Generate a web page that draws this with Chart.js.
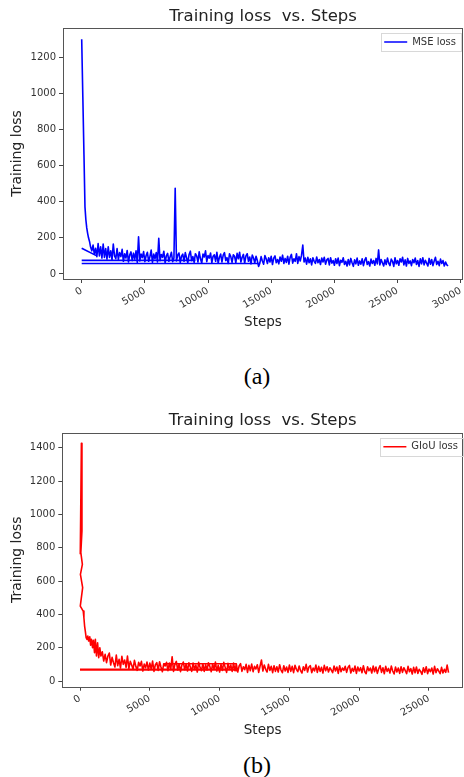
<!DOCTYPE html>
<html>
<head>
<meta charset="utf-8">
<script src="https://cdn.jsdelivr.net/npm/chart.js@4.4.3/dist/chart.umd.min.js"></script>
<style>
  html, body { margin: 0; padding: 0; background: #fff; }
  body { width: 464px; height: 777px; position: relative; overflow: hidden; }
  canvas { position: absolute; left: 0; }
  #chartA { top: 0; }
  #chartB { top: 390px; }
  .caption {
    position: absolute; left: 207px; width: 100px; text-align: center;
    font-family: 'Liberation Serif', 'Times New Roman', serif; font-size: 24px; line-height: 24px; color: #000;
  }
</style>
</head>
<body>
<canvas id="chartA" width="464" height="340"></canvas>
<div class="caption" style="top: 364px;">(a)</div>
<canvas id="chartB" width="464" height="355"></canvas>
<div class="caption" style="top: 753px;">(b)</div>
<script>
// ---- (a) MSE loss ----
const stepsA = [
    0, 90, 180, 260, 330, 400, 470, 540, 620, 700, 800, 900, 1000, 1100, 1200, 1300, 1400, 1500,
    1600, 1700, 1800, 1900, 2000,
    2100, 2200, 2300, 2400, 2500, 2600, 2700, 2800, 2900, 3000,
    3100, 3200, 3300, 3400, 3500, 3600, 3700, 3800, 3900, 4000,
    4100, 4200, 4300, 4400, 4500, 4600, 4700, 4800, 4900, 5000,
    5100, 5200, 5300, 5400, 5500, 5600, 5700, 5800, 5900, 6000,
    6100, 6200, 6300, 6400, 6500, 6600, 6700, 6800, 6900, 7000,
    7100, 7200, 7300, 7400, 7500, 7600, 7700, 7800, 7900, 8000,
    8100, 8200, 8300, 8400, 8500, 8600, 8700, 8800, 8900, 9000,
    9100, 9200, 9300, 9400, 9500, 9600, 9700, 9800, 9900, 10000,
    10100, 10200, 10300, 10400, 10500, 10600, 10700, 10800, 10900, 11000,
    11100, 11200, 11300, 11400, 11500, 11600, 11700, 11800, 11900, 12000,
    12100, 12200, 12300, 12400, 12500, 12600, 12700, 12800, 12900, 13000,
    13100, 13200, 13300, 13400, 13500, 13600, 13700, 13800, 13900, 14000,
    14100, 14200, 14300, 14400, 14500, 14600, 14700, 14800, 14900, 15000,
    15100, 15200, 15300, 15400, 15500, 15600, 15700, 15800, 15900, 16000,
    16100, 16200, 16300, 16400, 16500, 16600, 16700, 16800, 16900, 17000,
    17100, 17200, 17300, 17400, 17500, 17600, 17700, 17800, 17900, 18000,
    18100, 18200, 18300, 18400, 18500, 18600, 18700, 18800, 18900, 19000,
    19100, 19200, 19300, 19400, 19500, 19600, 19700, 19800, 19900, 20000,
    20100, 20200, 20300, 20400, 20500, 20600, 20700, 20800, 20900, 21000,
    21100, 21200, 21300, 21400, 21500, 21600, 21700, 21800, 21900, 22000,
    22100, 22200, 22300, 22400, 22500, 22600, 22700, 22800, 22900, 23000,
    23100, 23200, 23300, 23400, 23500, 23600, 23700, 23800, 23900, 24000,
    24100, 24200, 24300, 24400, 24500, 24600, 24700, 24800, 24900, 25000,
    25100, 25200, 25300, 25400, 25500, 25600, 25700, 25800, 25900, 26000,
    26100, 26200, 26300, 26400, 26500, 26600, 26700, 26800, 26900, 27000,
    27100, 27200, 27300, 27400, 27500, 27600, 27700, 27800, 27900, 28000,
    28100, 28200, 28300, 28400, 28500, 28600, 28700, 28800, 28900, 29000
];
const lossA = [
    1300, 980, 660, 370, 300, 255, 225, 200, 180, 150, 128, 160, 108, 142, 96, 168, 100, 150,
    88, 165, 92, 140, 82,
    150, 92, 128, 78, 165, 100, 84, 140, 80, 118,
    96, 136, 70, 112, 88, 130, 66, 104, 122, 74,
    115, 82, 128, 64, 206, 72, 110, 90, 124, 68,
    102, 120, 70, 96, 132, 64, 110, 84, 118, 66,
    197, 74, 108, 92, 126, 62, 100, 114, 70, 96,
    120, 68, 88, 474, 72, 104, 116, 64, 98, 110,
    70, 118, 90, 62, 108, 126, 74, 96, 64, 112,
    100, 66, 122, 84, 60, 110, 94, 128, 68, 102,
    88, 116, 62, 98, 106, 70, 120, 60, 92, 110,
    66, 104, 118, 74, 90, 58, 112, 96, 64, 106,
    98, 62, 114, 84, 120, 66, 92, 108, 60, 100,
    112, 70, 94, 56, 104, 88, 62, 98, 74, 42,
    60, 96, 72, 54, 102, 84, 58, 90, 66, 98,
    52, 88, 100, 62, 80, 56, 94, 70, 104, 58,
    86, 64, 98, 54, 92, 108, 60, 84, 70, 112,
    58, 96, 72, 104, 160, 66, 88, 54, 92, 62,
    84, 50, 90, 70, 58, 94, 62, 80, 52, 88,
    66, 92, 54, 78, 86, 50, 90, 60, 74, 48,
    84, 58, 88, 46, 76, 64, 90, 52, 70, 44,
    80, 50, 86, 62, 42, 78, 56, 88, 48, 72,
    54, 84, 46, 76, 90, 52, 68, 44, 82, 58,
    74, 48, 86, 56, 133, 50, 80, 62, 44, 78,
    52, 88, 60, 46, 82, 70, 42, 90, 56, 74,
    48, 84, 66, 92, 50, 78, 44, 86, 58, 72,
    46, 80, 62, 88, 52, 74, 42, 84, 56, 90,
    50, 76, 60, 44, 86, 54, 80, 46, 72, 92,
    52, 70, 46, 82, 58, 74, 44, 66, 50, 45
];
// segments where the log restarts from step 0
const jumpStepsA = [[0, 1200], [0, 9000], [0, 14000]];
const jumpLossA = [[142, 100], [75, 75], [58, 58]];
const xTicksA = [0, 5000, 10000, 15000, 20000, 25000, 30000];
const yTicksA = [0, 200, 400, 600, 800, 1000, 1200];

// ---- (b) GIoU loss ----
const stepsB = [
    20, 100, 140, 60, 170, 30, 190, 20, 230, 280, 330, 380, 440, 500, 560, 620, 700, 760, 820, 900,
    960, 1040, 1100, 1180, 1260, 1340, 1420, 1500, 1600, 1700, 1800, 1900, 2000,
    2100, 2200, 2300, 2400, 2500, 2600, 2700, 2800, 2900, 3000,
    3100, 3200, 3300, 3400, 3500, 3600, 3700, 3800, 3900, 4000,
    4100, 4200, 4300, 4400, 4500, 4600, 4700, 4800, 4900, 5000,
    5100, 5200, 5300, 5400, 5500, 5600, 5700, 5800, 5900, 6000,
    6100, 6200, 6300, 6400, 6500, 6600, 6700, 6800, 6900, 7000,
    7100, 7200, 7300, 7400, 7500, 7600, 7700, 7800, 7900, 8000,
    8100, 8200, 8300, 8400, 8500, 8600, 8700, 8800, 8900, 9000,
    9100, 9200, 9300, 9400, 9500, 9600, 9700, 9800, 9900, 10000,
    10100, 10200, 10300, 10400, 10500, 10600, 10700, 10800, 10900, 11000,
    11100, 11200, 11300, 11400, 11500, 11600, 11700, 11800, 11900, 12000,
    12100, 12200, 12300, 12400, 12500, 12600, 12700, 12800, 12900, 13000,
    13100, 13200, 13300, 13400, 13500, 13600, 13700, 13800, 13900, 14000,
    14100, 14200, 14300, 14400, 14500, 14600, 14700, 14800, 14900, 15000,
    15100, 15200, 15300, 15400, 15500, 15600, 15700, 15800, 15900, 16000,
    16100, 16200, 16300, 16400, 16500, 16600, 16700, 16800, 16900, 17000,
    17100, 17200, 17300, 17400, 17500, 17600, 17700, 17800, 17900, 18000,
    18100, 18200, 18300, 18400, 18500, 18600, 18700, 18800, 18900, 19000,
    19100, 19200, 19300, 19400, 19500, 19600, 19700, 19800, 19900, 20000,
    20100, 20200, 20300, 20400, 20500, 20600, 20700, 20800, 20900, 21000,
    21100, 21200, 21300, 21400, 21500, 21600, 21700, 21800, 21900, 22000,
    22100, 22200, 22300, 22400, 22500, 22600, 22700, 22800, 22900, 23000,
    23100, 23200, 23300, 23400, 23500, 23600, 23700, 23800, 23900, 24000,
    24100, 24200, 24300, 24400, 24500, 24600, 24700, 24800, 24900, 25000,
    25100, 25200, 25300, 25400, 25500, 25600, 25700, 25800, 25900, 26000,
    26100, 26200, 26300, 26400
];
const lossB = [
    760, 1426, 900, 770, 700, 640, 560, 450, 420, 380, 330, 300, 260, 250, 270, 240, 265, 215, 250, 200,
    245, 170, 250, 150, 230, 140, 200, 150, 175, 120, 160, 110, 150,
    168, 96, 142, 110, 84, 156, 92, 130, 78, 148,
    100, 126, 82, 150, 74, 118, 96, 70, 124, 88,
    64, 112, 90, 118, 60, 102, 80, 114, 66, 108,
    72, 120, 58, 98, 110, 64, 116, 84, 56, 104,
    90, 112, 62, 108, 70, 146, 58, 100, 118, 66,
    104, 56, 96, 114, 68, 102, 60, 110, 84, 58,
    108, 70, 96, 54, 112, 82, 62, 104, 58, 98,
    66, 110, 88, 56, 102, 72, 114, 60, 94, 54,
    100, 64, 112, 82, 52, 106, 70, 96, 58, 108,
    62, 98, 54, 90, 104, 58, 86, 68, 100, 52,
    94, 62, 102, 56, 88, 72, 98, 52, 90, 126,
    60, 96, 70, 54, 100, 64, 88, 50, 92, 58,
    86, 54, 98, 66, 50, 92, 60, 84, 52, 96,
    58, 88, 50, 94, 70, 56, 90, 62, 48, 86,
    64, 100, 54, 84, 92, 50, 78, 60, 96, 52,
    88, 58, 82, 48, 94, 62, 86, 54, 80, 66,
    50, 90, 60, 84, 46, 92, 56, 78, 64, 88,
    52, 82, 94, 48, 76, 58, 90, 46, 84, 60,
    80, 50, 92, 56, 44, 86, 62, 78, 48, 90,
    56, 84, 46, 74, 92, 52, 80, 44, 88, 58,
    76, 48, 90, 60, 42, 84, 54, 78, 46, 86,
    52, 80, 62, 44, 88, 56, 74, 42, 82, 50,
    84, 46, 70, 58, 40, 80, 52, 86, 44, 72,
    56, 78, 42, 88, 50, 74, 60, 44, 82, 48,
    70, 52, 96, 50
];
const jumpStepsB = [[0, 11200], [0, 11200], [6000, 11200, 11200]];
const jumpLossB = [[66, 66], [71, 71], [104, 104, 62]];
const xTicksB = [0, 5000, 10000, 15000, 20000, 25000];
const yTicksB = [0, 200, 400, 600, 800, 1000, 1200, 1400];

Chart.defaults.font.family = "'DejaVu Sans', sans-serif";
Chart.defaults.color = '#333';

const toPoints = (steps, values) => steps.map((s, i) => ({ x: s, y: values[i] }));

// matplotlib-like box around the axes, legend moved to the top right with a frame
const boxPlugin = {
    id: 'boxPlugin',
    afterUpdate(chart, args, opts) {
        const lg = chart.legend;
        const hb = lg && lg.legendHitBoxes[0];
        if (!hb) return;
        const dx = opts.legendRight - (hb.left + hb.width);
        const dy = chart.chartArea.top + 9 - hb.top;
        lg.left += dx;
        lg.right += dx;
        lg.top += dy;
        lg.bottom += dy;
        hb.left += dx;
        hb.top += dy;
    },
    afterDraw(chart) {
        const { ctx, chartArea: a } = chart;
        ctx.save();
        ctx.strokeStyle = '#555';
        ctx.lineWidth = 1;
        ctx.strokeRect(Math.round(a.left) + 0.5, Math.round(a.top) + 0.5, Math.round(a.right - a.left) - 1, Math.round(a.bottom - a.top));
        const hb = chart.legend.legendHitBoxes[0];
        if (hb) {
            ctx.strokeStyle = '#d8d8d8';
            ctx.strokeRect(Math.round(hb.left - 3) + 0.5, Math.round(hb.top - 4) + 0.5, Math.round(hb.width + 8), hb.height + 8);
        }
        ctx.restore();
    }
};

function makeChart(id, o) {
    const datasets = [{
        label: o.label,
        data: toPoints(o.steps, o.loss),
        borderColor: o.color,
        borderWidth: 1.6,
        borderJoinStyle: 'round',
        pointRadius: 0,
        tension: 0
    }];
    o.jumpSteps.forEach((s, i) => datasets.push({
        label: '',
        data: toPoints(s, o.jumpLoss[i]),
        borderColor: o.color,
        borderWidth: 1.6,
        borderJoinStyle: 'round',
        pointRadius: 0
    }));

    return new Chart(document.getElementById(id), {
        type: 'line',
        data: { datasets },
        options: {
            responsive: false,
            devicePixelRatio: 1,
            animation: false,
            layout: { padding: { left: 0, right: 1, top: 0, bottom: 0 } },
            plugins: {
                title: {
                    display: true,
                    text: 'Training loss  vs. Steps',
                    fullSize: false,
                    color: '#222',
                    font: { size: 16.5, weight: 'normal' },
                    padding: o.titlePad
                },
                legend: {
                    position: 'chartArea',
                    align: 'start',
                    labels: {
                        filter: item => item.datasetIndex === 0,
                        usePointStyle: true,
                        pointStyle: 'line',
                        pointStyleWidth: 23,
                        boxHeight: 10,
                        padding: 9,
                        color: '#333',
                        font: { size: 10 }
                    }
                },
                tooltip: { enabled: false },
                boxPlugin: { legendRight: o.legendRight }
            },
            scales: {
                x: {
                    type: 'linear',
                    min: o.xMin,
                    max: o.xMax,
                    afterFit: s => { s.height = o.xAxisHeight; s.paddingLeft = 0; s.paddingRight = 0; },
                    afterBuildTicks: s => { s.ticks = o.xTicks.map(v => ({ value: v })); },
                    ticks: { autoSkip: false, minRotation: 30, maxRotation: 30, padding: 2, color: '#333', font: { size: 10 }, callback: v => String(v) },
                    grid: { drawOnChartArea: false, tickLength: 4, tickColor: '#444' },
                    border: { display: false },
                    title: { display: true, text: 'Steps', color: '#222', font: { size: 13.5 }, padding: { top: 0, bottom: o.xTitlePad } }
                },
                y: {
                    min: o.yMin,
                    max: o.yMax,
                    afterFit: s => { s.width = o.yAxisWidth; s.paddingTop = 0; s.paddingBottom = 0; },
                    afterBuildTicks: s => { s.ticks = o.yTicks.map(v => ({ value: v })); },
                    ticks: { padding: 3, color: '#333', font: { size: 10 }, callback: v => String(v) },
                    grid: { drawOnChartArea: false, tickLength: 4, tickColor: '#444' },
                    border: { display: false },
                    title: { display: true, text: 'Training loss', color: '#222', font: { size: 14 }, padding: { top: 8.6, bottom: 0 } }
                }
            }
        },
        plugins: [boxPlugin]
    });
}

makeChart('chartA', {
    label: 'MSE loss', color: '#0000ff',
    steps: stepsA, loss: lossA, jumpSteps: jumpStepsA, jumpLoss: jumpLossA,
    xTicks: xTicksA, yTicks: yTicksA,
    xMin: -1480, xMax: 30180, yMin: -28, yMax: 1362,
    titlePad: { top: 6.5, bottom: 1.7 },
    xAxisHeight: 61, yAxisWidth: 63, xTitlePad: 9.6, legendRight: 456
});

makeChart('chartB', {
    label: 'GIoU loss', color: '#ff0000',
    steps: stepsB, loss: lossB, jumpSteps: jumpStepsB, jumpLoss: jumpLossB,
    xTicks: xTicksB, yTicks: yTicksB,
    xMin: -1268, xMax: 27436, yMin: -34, yMax: 1490,
    titlePad: { top: 20.8, bottom: 2.1 },
    xAxisHeight: 58.3, yAxisWidth: 62.3, xTitlePad: 6.6, legendRight: 458
});
</script>
</body>
</html>
